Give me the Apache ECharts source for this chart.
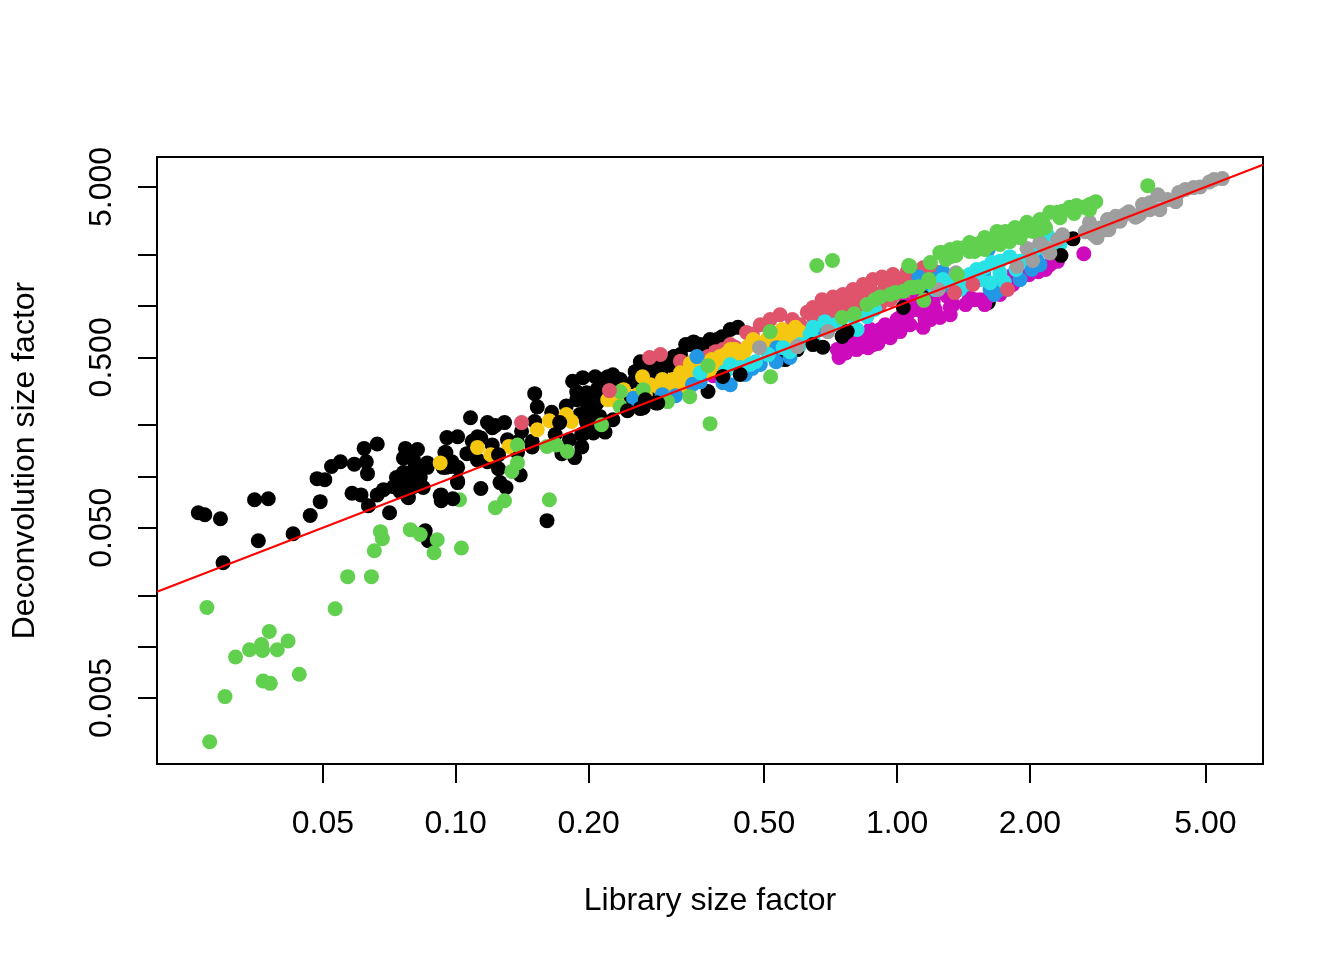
<!DOCTYPE html>
<html><head><meta charset="utf-8">
<style>html,body{margin:0;background:#fff}#c{width:1344px;height:960px}</style>
<script src="https://cdn.jsdelivr.net/npm/echarts@6/dist/echarts.min.js"></script>
</head><body><div id="c"></div>
<script>
const xTicks=[0.05,0.1,0.2,0.5,1,2,5];
const yTicks=[0.005,0.01,0.02,0.05,0.1,0.2,0.5,1,2,5];
const yLabelled=[0.005,0.05,0.5,5];
const xName='Library size factor';
const yName='Deconvolution size factor';
const xRange=[0.02104,6.75];
const yRange=[0.00205,7.5];
const refLine=[[0.02104,0.02104],[6.75,6.75]];
const blackLow=[[.0261,.0612],[.0270,.0596],[.0293,.0564],[.0350,.0730],[.0376,.0739],[.0357,.0419],[.0297,.0311],[.0428,.0461],[.0468,.0590],[.0493,.0711],[.0485,.0970],[.0505,.0957],[.0523,.1143],[.0548,.122],[.0589,.118],[.0627,.122],[.0631,.1038],[.0620,.146],[.0664,.155],[.0582,.0796],[.0610,.0779],[.0634,.0673],[.0664,.0779],[.0686,.0836],[.0708,.0612],[.0769,.146],[.0819,.144],[.0761,.128],[.0802,.125],[.0862,.120],[.0862,.113],[.0734,.0985],[.0761,.1055],[.0797,.107],[.0822,.113],[.0723,.0870],[.0757,.0895],[.0781,.0925],[.0749,.0814],[.0781,.0750],[.0844,.0860],[.0802,.0870],[.0927,.0779],[.0927,.0720],[.0950,.138],[.0955,.169],[.101,.171],[.0950,.113],[.0980,.122],[.101,.0920],[.0853,.0480],[.0867,.0419],[.108,.221],[.151,.306],[.153,.256],[.118,.207],[.123,.199],[.129,.207],[.121,.193],[.112,.171],[.109,.161],[.114,.168],[.0945,.138],[.106,.136],[.121,.153],[.131,.164],[.141,.184],[.138,.159],[.151,.210],[.149,.161],[.165,.238],[.178,.259],[.168,.176],[.149,.149],[.174,.136],[.186,.129],[.193,.149],[.193,.176],[.181,.164],[.205,.180],[.218,.182],[.227,.215],[.212,.225],[.201,.247],[.184,.362],[.194,.380],[.207,.385],[.227,.395],[.188,.314],[.188,.282],[.198,.310],[.209,.323],[.198,.270],[.209,.270],[.221,.385],[.212,.370],[.227,.355],[.125,.111],[.140,.102],[.126,.092],[.130,.086],[.114,.085],[.101,.094],[.0922,.0772],[.078,.0758],[.0975,.1143],[.101,.113],[.0936,.113],[.0945,.125],[.112,.125],[.118,.122],[.138,.138],[.0831,.1143],[.0862,.118],[.079,.102],[.0749,.0957],[.0831,.0985],[.161,.0550],[.332,.594],[.346,.616],[.262,.471],[.255,.412],[.253,.359],[.291,.499],[.312,.505],[.281,.424],[.295,.443],[.272,.443],[.337,.461],[.318,.461],[.262,.397],[.291,.406],[.312,.436],[.276,.412],[.373,.315],[.340,.594],[.362,.555],[.377,.636],[.401,.660],[.419,.728],[.436,.750],[.391,.636],[.558,.485],[.594,.555],[1.158,1.285],[1.61,1.05],[2.166,2.62]];
const blackFill=[[.201,.30],[.212,.282],[.223,.302],[.207,.231],[.191,.231],[.181,.215],[.196,.18],[.212,.197],[.262,.345],[.276,.37],[.30,.472],[.323,.519],[.358,.594],[.276,.323],[.24,.323],[.245,.282],[.236,.37]];
const redBand=[[.141,.207],[.275,.499],[.323,.475],[.456,.70],[.49,.777],[.429,.574],[.403,.555],[.373,.505],[.543,.889],[.579,.833],[.626,.92],[.645,.98],[.676,1.09],[.716,1.13],[.754,1.17],[.795,1.25],[.838,1.34],[.882,1.43],[.925,1.48],[.979,1.53],[1.055,1.59],[1.146,1.68],[.694,.95],[.743,1.02],[.812,1.13],[.882,1.2],[.965,1.37],[1.055,1.37],[1.146,1.43],[.645,.867],[1.07,1.57],[1.127,1.57],[1.17,1.638],[.725,.954],[.825,1.02],[.915,1.17],[1.016,1.25]];
const redFill=[[.603,.778],[.65,.833],[.686,.89],[.725,.856],[.784,.954],[.847,1.05],[.915,1.02],[.988,1.17],[1.07,1.34],[1.158,1.46],[1.251,1.43],[.965,1.09],[1.044,1.17],[.663,.98],[.775,1.09],[.86,1.22],[.94,1.285],[1.016,1.43],[1.09,1.53],[1.22,1.59],[1.32,1.34],[1.43,1.25],[.419,.594],[.516,.833],[.47,.685],[.388,.54],[.35,.485],[.291,.52]];
const magentaBand=[[.383,.39],[.739,.499],[.732,.555],[.784,.57],[.838,.578],[.882,.594],[.929,.66],[.979,.708],[1.0,.833],[.795,.636],[.855,.66],[.915,.728],[1.11,.954],[1.11,1.09],[1.146,.75],[1.19,.833],[1.146,.915],[1.055,.80],[1.208,1.06],[2.65,2.03],[2.22,1.75],[1.82,1.51],[1.78,1.34],[1.92,1.49],[1.30,1.14],[1.46,1.12],[1.208,.99],[1.127,.99],[1.34,1.02],[1.542,1.09],[1.685,1.285],[1.07,.93],[2.09,1.59],[1.32,.89],[1.58,1.02],[1.711,1.17]];
const magentaFill=[[.765,.53],[.817,.594],[.87,.636],[.81,.555],[.86,.57],[.905,.603],[.965,.652],[1.016,.708],[1.07,.777],[1.158,.833],[1.251,.856],[1.22,.954],[1.32,.98],[1.43,1.02],[1.5,1.09],[1.625,1.15],[1.711,1.34],[1.83,1.34],[1.99,1.53],[2.17,1.638],[2.31,1.83],[1.016,.856],[.94,.777],[.87,.728],[.825,.68],[.765,.615],[1.044,1.02],[1.158,1.09],[1.29,1.17]];
const goldBand=[[.112,.148],[.120,.134],[.132,.150],[.0922,.1200],[.153,.188],[.163,.212],[.178,.231],[.183,.210],[.221,.282],[.232,.275],[.240,.323],[.258,.302],[.287,.336],[.307,.359],[.318,.376],[.335,.376],[.346,.412],[.354,.471],[.288,.341],[.310,.37],[.332,.376],[.397,.505],[.401,.461],[.448,.505],[.459,.578],[.472,.636],[.534,.66],[.572,.70],[.603,.708],[.549,.728],[.265,.385]];
const goldFill=[[.276,.345],[.3,.345],[.323,.406],[.362,.436],[.38,.485],[.419,.555],[.429,.485],[.478,.594],[.507,.636],[.526,.594],[.572,.636],[.358,.376],[.34,.461],[.388,.424],[.408,.519],[.269,.302],[.294,.37],[.323,.333],[.35,.376],[.369,.412],[.429,.555],[.453,.555],[.516,.68],[.588,.75],[.558,.636]];
const blueBand=[[.315,.298],[.253,.288],[.344,.347],[.294,.302],[.352,.505],[.403,.355],[.47,.431],[.532,.471],[.534,.57],[.669,.728],[1.12,1.48],[2.02,1.638],[1.66,1.17],[2.07,1.875],[1.27,1.59],[1.61,2.15],[1.57,1.53],[1.33,1.285]];
const blueFill=[[.302,.282],[.419,.345],[.453,.397],[.49,.454],[.358,.359],[.572,.499],[1.9,1.43],[1.711,1.25],[2.108,1.75],[1.389,1.43],[1.19,1.34],[1.29,1.34],[1.22,1.43],[1.625,1.25]];
const cyanBand=[[.358,.406],[.441,.436],[.478,.471],[.511,.519],[.552,.57],[.594,.578],[.645,.75],[.645,.636],[.795,.867],[.855,.867],[.812,.728],[1.515,1.638],[1.625,1.37],[1.711,1.57],[1.80,1.95],[1.64,1.8],[2.19,2.62],[2.34,2.3],[1.27,1.43],[1.389,1.25],[1.542,1.43],[1.9,1.83],[2.05,2.15],[.408,.412],[.725,.777]];
const cyanFill=[[.419,.454],[.465,.454],[.635,.68],[.686,.81],[.743,.777],[.603,.594],[.572,.54],[.89,.954],[1.43,1.34],[1.46,1.53],[1.58,1.68],[1.711,1.83],[1.86,1.638],[1.99,2.0],[2.108,2.22],[1.32,1.39],[1.22,1.25],[1.75,1.39]];
const blackMid=[[.645,.594],[.679,.574],[.751,.663],[.771,.708],[1.033,.98],[2.505,2.48],[2.352,1.98]];
const grayBand=[[.488,.57],[.594,.578],[.697,.708],[5.46,5.6],[5.1,5.35],[4.7,4.96],[4.35,4.64],[4.28,4.1],[3.94,3.68],[3.9,4.5],[3.6,3.94],[3.35,3.58],[3.13,3.37],[3.0,3.22],[2.73,3.1],[2.84,2.52],[2.67,2.73],[2.37,2.62],[2.22,2.05],[2.108,2.36],[1.97,2.18],[2.03,1.85],[1.87,1.71],[1.36,1.57],[1.24,1.25],[2.88,2.87],[3.08,3.1],[3.5,3.37],[3.74,4.04]];
const grayFill=[[5.23,5.53],[4.86,5.0],[4.5,4.83],[4.1,4.22],[3.74,3.68],[3.28,3.45],[2.79,2.87],[2.31,2.45],[2.17,2.2],[3.2,3.15],[3.55,3.45],[3.02,2.81],[2.97,2.81],[3.47,3.32],[2.79,2.62]];
const greenBand=[[.0273,.0170],[.0533,.0167],[.0569,.0258],[.0644,.0258],[.0654,.0366],[.0675,.0474],[.0682,.0431],[.0789,.0487],[.0831,.0456],[.0908,.0425],[.0893,.0356],[.103,.0380],[.0378,.0123],[.0417,.0108],[.0363,.0103],[.0341,.0096],[.0365,.0095],[.0394,.0096],[.0317,.0087],[.0442,.0069],[.0366,.0063],[.038,.0061],[.0300,.0051],[.0277,.00277],[.102,.073],[.129,.0720],[.123,.0655],[.163,.073],[.138,.153],[.138,.12],[.134,.107],[.161,.15],[.169,.153],[.179,.14],[.214,.201],[.236,.257],[.302,.275],[.339,.294],[.236,.314],[.266,.323],[.658,1.73],[.714,1.85],[.517,.385],[.377,.204],[.373,.447],[.516,.708],[.751,.856],[.855,1.02],[.915,1.13],[.965,1.17],[1.033,1.22],[1.09,1.285],[1.18,1.39],[1.15,1.08],[1.063,1.73],[1.19,1.8],[1.265,2.06],[3.7,5.09],[2.82,4.1],[2.65,3.8],[2.46,3.8],[2.37,3.6],[2.22,3.55],[2.14,3.1],[1.97,3.1],[1.85,2.89],[1.685,2.74],[1.685,2.45],[1.56,2.39],[1.46,2.36],[1.37,2.2],[1.25,2.06],[1.32,1.95],[1.88,2.62],[2.03,2.74],[1.37,1.53],[1.07,1.71],[1.18,1.43],[1.07,1.285],[1.5,2.09],[1.711,2.3],[1.8,2.52]];
const greenFill=[[2.73,3.95],[2.55,3.9],[2.31,3.55],[2.06,3.0],[1.93,2.89],[1.76,2.74],[1.58,2.53],[1.625,2.3],[1.42,2.2],[1.32,2.15],[1.9,2.52],[2.108,2.81],[1.5,2.3],[.99,1.2],[.89,1.09],[.8,.9],[1.12,1.3],[2.34,3.3],[2.52,3.5],[2.73,3.68],[2.108,3.22],[2.17,2.89],[1.95,2.74],[1.711,2.52],[1.8,2.39],[1.58,2.15],[1.46,2.09],[1.36,1.98],[1.29,1.875]];
const blackTop=[[.0985,.0739],[.172,.207],[.198,.207],[.245,.243],[.262,.250],[.287,.270],[.269,.282],[.266,.253],[.284,.270],[.125,.134],[.403,.386],[.441,.397]];
const redTop=[[.223,.319],[1.485,1.34],[1.35,1.2],[1.78,1.25]];
const layers=[[blackLow.concat(blackFill),'#000000'],[redBand.concat(redFill),'#DF536B'],[magentaBand.concat(magentaFill),'#CD0BBC'],[goldBand.concat(goldFill),'#F5C710'],[blueBand.concat(blueFill),'#2297E6'],[cyanBand.concat(cyanFill),'#28E2E5'],[blackMid,'#000000'],[grayBand.concat(grayFill),'#9E9E9E'],[greenBand.concat(greenFill),'#61D04F'],[blackTop,'#000000'],[redTop,'#DF536B']];
const font={fontFamily:'Liberation Sans',fontSize:32,color:'#000'};
const chart=echarts.init(document.getElementById('c'),null,{renderer:'canvas'});
const axisCommon={type:'log',logBase:10,splitLine:{show:false},minorTick:{show:false},minorSplitLine:{show:false},axisLine:{show:true,onZero:false,lineStyle:{color:'#000',width:2}},nameLocation:'middle',nameTextStyle:font};
chart.setOption({animation:false,backgroundColor:'#fff',
grid:{left:157,right:81,top:157,bottom:196,show:true,borderColor:'#000',borderWidth:2,backgroundColor:'transparent',outerBoundsMode:'none'},
xAxis:Object.assign({},axisCommon,{min:xRange[0],max:xRange[1],name:xName,nameGap:121,
 axisTick:{show:true,length:19,lineStyle:{color:'#000',width:2},customValues:xTicks},
 axisLabel:Object.assign({},font,{margin:44,hideOverlap:false,customValues:xTicks,formatter:v=>Number(v).toFixed(2)})}),
yAxis:Object.assign({},axisCommon,{min:yRange[0],max:yRange[1],name:yName,nameGap:116,
 axisTick:{show:true,length:19,lineStyle:{color:'#000',width:2},customValues:yTicks},
 axisLabel:Object.assign({},font,{rotate:90,margin:39,hideOverlap:false,customValues:yLabelled,formatter:v=>Number(v).toFixed(3)})}),
series:layers.map(([d,c])=>({type:'scatter',data:d,symbol:'circle',symbolSize:15,itemStyle:{color:c,opacity:1},silent:true})).concat([{type:'line',data:refLine,symbol:'none',lineStyle:{color:'#FF0000',width:2},silent:true}])
});
</script></body></html>
